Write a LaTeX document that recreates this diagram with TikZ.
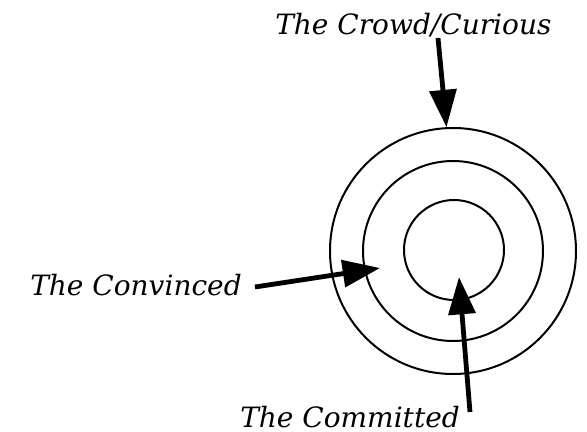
\documentclass[tikz,border=0pt]{standalone}
\usepackage{fontspec}
\setmainfont{DejaVu Serif}
\usetikzlibrary{arrows.meta}
\definecolor{ink}{RGB}{0,0,0}
\tikzset{
  ring/.style={circle, draw=ink, line width=1.5pt, inner sep=0pt, minimum size=#1},
  label/.style={anchor=base west, inner sep=0pt, text=ink, font=\itshape\fontsize{21}{24}\selectfont},
  pointer/.style={-{Triangle[length=28pt,width=20pt]}, line width=3.6pt, draw=ink}
}
\begin{document}
\begin{tikzpicture}[x=0.75pt,y=-0.75pt]
  \useasboundingbox (0,0) rectangle (587,432);
  \node[ring=184.5pt] (outer) at (453,251) {};
  \node[ring=135pt] (middle) at (453,251) {};
  \node[ring=75pt] (inner) at (454,250) {};
  \node[label] (crowd) at (275,35) {The Crowd/Curious};
  \node[label] (convinced) at (30,295) {The Convinced};
  \node[label] (committed) at (240,427) {The Committed};
  \coordinate (crowdtail) at (438,38);
  \coordinate (convtail) at (255,287);
  \coordinate (convtip) at (380,268);
  \coordinate (committail) at (470,412);
  \coordinate (committip) at (459,277);
  \draw[pointer] (crowdtail) -- (outer.93);
  \draw[pointer] (convtail) -- (convtip);
  \draw[pointer] (committail) -- (committip);
\end{tikzpicture}
\end{document}
